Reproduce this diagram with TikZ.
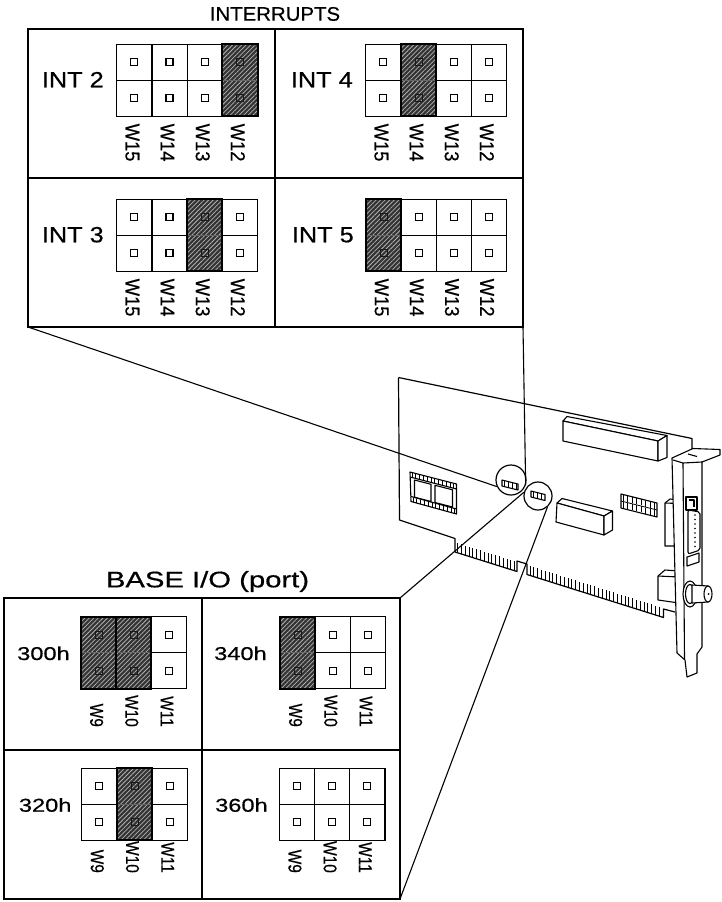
\documentclass[tikz,border=0pt]{standalone}
\usepackage{fontspec}
\setmainfont{Liberation Sans}[FakeBold=0.5]
\usetikzlibrary{patterns.meta}

\tikzset{
  frame/.style={draw=black, line width=1.3pt},
  cellbox/.style={draw=black, line width=1.2pt, fill=white},
  pinsq/.style={draw=black, line width=1.3pt},
  setpin/.style={draw=black!90, line width=0.7pt},
  setframe/.style={draw=black, line width=2pt},
  hatch/.style={pattern={Lines[angle=45,distance=3.2pt,line width=0.75pt]}, pattern color=black!30},
  heading/.style={inner sep=0, anchor=base},
  intlbl/.style={inner sep=0, font=\fontsize{22}{22}\selectfont, xscale=1.15, anchor=base east},
  portlbl/.style={inner sep=0, font=\fontsize{18.6}{19}\selectfont, xscale=1.27, anchor=base east},
  toplbl/.style={inner sep=0, font=\fontsize{20}{20}\selectfont, rotate=-90, xscale=0.92},
  botlbl/.style={inner sep=0, font=\fontsize{18.6}{19}\selectfont, rotate=-90, xscale=0.83},
  board/.style={draw=black, line width=1.2pt, line join=round},
  comp/.style={draw=black, line width=1.1pt, line join=round},
  finger/.style={draw=black, line width=0.8pt},
  jcircle/.style={circle, draw=black, line width=1.2pt, minimum size=30pt, inner sep=0},
  lead/.style={draw=black, line width=1.1pt},
}

% a block of two-row jumpers: x, y (top left), number of columns
\newcommand\jgrid[3]{%
  \foreach \c in {1,...,#3} {
    \foreach \r in {0,1} {
      \draw[cellbox] ({#1+(\c-1)*35.2},{#2+\r*36}) rectangle ++(35.2,36);
      \draw[pinsq] ({#1+(\c-0.5)*35.2-3.5},{#2+(\r+0.5)*36-3.5}) rectangle ++(7,7);
    }
  }
}
% a fitted jumper (shaded column): x, y, column
\newcommand\jfit[3]{%
  \fill[black!80] ({#1+(#3-1)*35.2},#2) rectangle ++(35.2,72);
  \fill[hatch] ({#1+(#3-1)*35.2},#2) rectangle ++(35.2,72);
  \draw[line width=0.6pt, black!60] ({#1+(#3-1)*35.2},{#2+36}) -- ++(35.2,0);
  \foreach \r in {0,1}
    \draw[setpin] ({#1+(#3-0.5)*35.2-3.5},{#2+(\r+0.5)*36-3.5}) rectangle ++(7,7);
  \draw[setframe] ({#1+(#3-1)*35.2},#2) rectangle ++(35.2,72);
}
% column names under a block: name, x, bottom y, style, list
\newcommand\jlabels[5]{%
  \foreach \t [count=\c] in {#5}
    \node[#4, anchor=east] (#1-\c) at ({#2+(\c-0.5)*35.2-2},#3) {\t};
}

\begin{document}
\begin{tikzpicture}[x=1pt, y=-1pt]
\useasboundingbox (0,0) rectangle (722,902);
\fill[white] (0,0) rectangle (722,902);

% ---------------- interrupt panel ----------------
\node[heading, font=\fontsize{19.6}{20}\selectfont, xscale=1.04] (inttitle) at (275,20.7) {INTERRUPTS};
\draw[frame] (28,29) rectangle (523,327);
\draw[frame] (275,29) -- (275,327);
\draw[frame] (28,178) -- (523,178);
\coordinate (tp-sw) at (28,327);
\coordinate (tp-se) at (523,327);

\node[intlbl] (int2) at (104,87.3) {INT 2};
\jgrid{116.7}{44.3}{4}
\jfit{116.7}{44.3}{4}
\jlabels{i2w}{116.7}{161.7}{toplbl}{W15,W14,W13,W12}

\node[intlbl] (int4) at (353,87.3) {INT 4};
\jgrid{365.7}{44.3}{4}
\jfit{365.7}{44.3}{2}
\jlabels{i4w}{365.7}{161.7}{toplbl}{W15,W14,W13,W12}

\node[intlbl] (int3) at (104,242.3) {INT 3};
\jgrid{116.7}{199.3}{4}
\jfit{116.7}{199.3}{3}
\jlabels{i3w}{116.7}{316.7}{toplbl}{W15,W14,W13,W12}

\node[intlbl] (int5) at (354,242.3) {INT 5};
\jgrid{366}{199.3}{4}
\jfit{366}{199.3}{1}
\jlabels{i5w}{366}{316.7}{toplbl}{W15,W14,W13,W12}

% ---------------- base I/O panel ----------------
\node[heading, font=\fontsize{22.5}{23}\selectfont, xscale=1.3] (iotitle) at (207.5,587.3) {BASE I/O (port)};
\draw[frame] (4,598) rectangle (400,899);
\draw[frame] (202,598) -- (202,899);
\draw[frame] (4,750) -- (400,750);
\coordinate (bp-ne) at (400,598);
\coordinate (bp-se) at (400,899);

\node[portlbl] (p300) at (70,660) {300h};
\jgrid{81}{616.7}{3}
\jfit{81}{616.7}{1}
\jfit{81}{616.7}{2}
\jlabels{p300w}{81}{727}{botlbl}{W9,W10,W11}

\node[portlbl] (p340) at (267,660) {340h};
\jgrid{280}{616.7}{3}
\jfit{280}{616.7}{1}
\jlabels{p340w}{280}{727}{botlbl}{W9,W10,W11}

\node[portlbl] (p320) at (71.7,811.7) {320h};
\jgrid{81.7}{768.3}{3}
\jfit{81.7}{768.3}{2}
\jlabels{p320w}{81.7}{873}{botlbl}{W9,W10,W11}

\node[portlbl] (p360) at (268,811.7) {360h};
\jgrid{279.3}{768.3}{3}
\jlabels{p360w}{279.3}{873}{botlbl}{W9,W10,W11}

% ---------------- adapter card ----------------
% board outline
\draw[board] (398.5,377.5) -- (692,438.5) -- (692,449);
\draw[board] (398.5,377.5) -- (399.5,520) -- (455,538.5) -- (455,552)
  -- (517,571.5) -- (517,561) -- (527,564) -- (527,574.5)
  -- (663.5,617.5) -- (663.5,609) -- (675,612);
% edge fingers
\foreach \k in {0,...,15}
  \draw[finger] ({457.5+\k*3.8},{552+(2.5+\k*3.8)*0.3145}) -- ++(0,-9.5);
\foreach \k in {0,...,34}
  \draw[finger] ({530+\k*3.8},{574.5+(3+\k*3.8)*0.3155}) -- ++(0,-9.5);

% socket on the left
\draw[comp, fill=white] (410,472) -- (456.5,484) -- (456.5,514) -- (411,501.5) -- cycle;
\draw[comp] (410,477) -- (456.5,489);
\draw[comp] (411,496.5) -- (456.5,509);
\draw[comp] (414.5,480) -- (431,484.3) -- (431,501.5) -- (414.5,497.2) -- cycle;
\draw[comp] (435,485.3) -- (452.5,489.8) -- (452.5,507) -- (435,502.5) -- cycle;
\foreach \k in {0,...,11} {
  \draw[finger] ({412+\k*3.8},{472.5+(2+\k*3.8)*0.258}) -- ++(0,4.5);
  \draw[finger] ({413+\k*3.8},{497+(2+\k*3.8)*0.27}) -- ++(0,4.5);
}

% long edge connector at the top
\draw[comp, fill=white] (563,421) -- (567,416.5) -- (667,435.5) -- (658,441) -- cycle;
\draw[comp, fill=white] (563,421) -- (658,441) -- (658,461) -- (563,441) -- cycle;
\draw[comp, fill=white] (658,441) -- (667,435.5) -- (667,457.5) -- (658,461) -- cycle;

% rectangular block
\draw[comp, fill=white] (557,503) -- (562,498.5) -- (612.5,511) -- (604,516) -- cycle;
\draw[comp, fill=white] (557,503) -- (604,516) -- (604,535) -- (556,522) -- cycle;
\draw[comp, fill=white] (604,516) -- (612.5,511) -- (612.5,530) -- (604,535) -- cycle;

% pin header
\draw[comp] (621,494) -- (657,503) -- (657,517) -- (621,508) -- cycle;
\draw[finger] (621,501) -- (657,510);
\foreach \k in {0,...,7} {
  \draw[finger] ({623+\k*4.5},{495+\k*1.12}) -- ++(0,6);
  \draw[finger] ({623+\k*4.5},{502+\k*1.12}) -- ++(0,6);
}

% jumper blocks in their circles
\node[jcircle] (jc1) at (511,480) {};
\draw[comp] (502,480) -- (518,484) -- (518,490) -- (502,486) -- cycle;
\foreach \k in {0,...,3} \draw[finger] ({504+\k*4},{480.5+\k*1}) -- ++(0,6);
\node[jcircle, minimum size=28pt] (jc2) at (538,496) {};
\draw[comp] (531,491) -- (545,494.5) -- (545,500.5) -- (531,497) -- cycle;
\foreach \k in {0,...,2} \draw[finger] ({533.5+\k*4},{491.5+\k*1}) -- ++(0,6);

% rear bodies of the sockets on the mounting plate
\draw[comp, fill=white] (665,503) -- (670,499) -- (679,500) -- (679,546) -- (665,546) -- cycle;
\draw[comp] (665,503) -- (679,503.5);
\draw[comp, fill=white] (658,576) -- (665,570) -- (679,571) -- (679,603) -- (658,600) -- cycle;
\draw[comp] (658,576) -- (679,577);

% mounting plate
\draw[comp, fill=white] (672,458) -- (693,448.5) -- (720,449.5) -- (720,455) -- (702,462)
  -- (702,647) -- (697,654) -- (697,673) -- (687,677) -- (685,660) -- (677,653) -- cycle;
\draw[comp] (673,460) -- (683,463) -- (702,462);
\draw[comp] (683,463) -- (684.5,659);
\draw[comp] (688,454) -- (697,456.5);

% 15-pin socket
\draw[comp, fill=white] (686,497) rectangle (697,510);
\draw[comp] (689,500) -- (694,500) -- (694,507);
\draw[comp, fill=white, rounded corners=2pt] (688,510) -- (700,512) -- (700,550) -- (688,554) -- cycle;
\foreach \k in {0,...,7} \fill ({695},{515+\k*4.5}) circle (0.9);
\draw[comp, fill=white] (687,557) -- (699,553) -- (699,562) -- (687,566) -- cycle;

% coaxial socket
\draw[comp, fill=white] (690,594) ellipse (7 and 13);
\draw[comp] (690,594) ellipse (4.5 and 9.5);
\draw[comp, fill=white] (692,585) -- (708,586) -- (708,602) -- (692,603) -- cycle;
\draw[comp, fill=white] (708,594) ellipse (4 and 8);
\fill (708.5,594) circle (1);

% leader lines from the panels to the circles
\draw[lead] (tp-sw) -- (jc1.205);
\draw[lead] (tp-se) -- (jc1.-20);
\draw[lead] (bp-ne) -- (jc2.165);
\draw[lead] (bp-se) -- (jc2.-50);
\end{tikzpicture}
\end{document}
